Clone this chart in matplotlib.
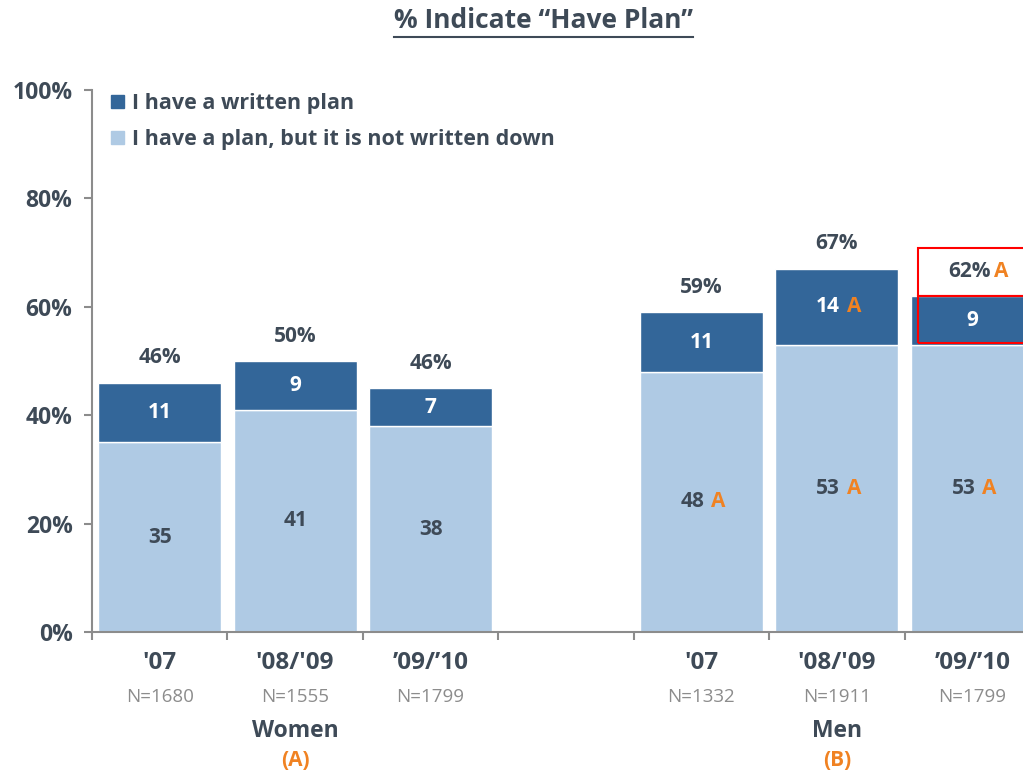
import numpy as np
import matplotlib
matplotlib.use("Agg")
import matplotlib.pyplot as plt
from matplotlib.patches import Patch, Rectangle
from matplotlib.lines import Line2D

plt.rcParams['font.family'] = ['Open Sans', 'DejaVu Sans']

# data
years = ["'07", "'08/'09", "\u201909/\u201910", "'07", "'08/'09", "\u201909/\u201910"]
n_sizes = [1680, 1555, 1799, 1332, 1911, 1799]
groups = ["Women", "Men"]
group_tags = ["(A)", "(B)"]
not_written = [35, 41, 38, 48, 53, 53]
written = [11, 9, 7, 11, 14, 9]
totals = [46, 50, 46, 59, 67, 62]
sig_not_written = [0, 0, 0, 1, 1, 1]
sig_written = [0, 0, 0, 0, 1, 0]
sig_total = [0, 0, 0, 0, 0, 1]

pos = [0, 1, 2, 4, 5, 6]
group_pos = [1, 5]

dark = '#336699'
light = '#AFCAE4'
txt = '#3E4A57'
orange = '#F08222'
grey = '#8C8C8C'

FS = 15

fig = plt.figure(figsize=(10.23, 7.74), dpi=100)
ax = fig.add_axes([92/1023, 1-632/774, 948/1023, 542/774])

ax.bar(pos, not_written, width=0.91, color=light, edgecolor='white', linewidth=1)
ax.bar(pos, written, bottom=not_written, width=0.91, color=dark, edgecolor='white', linewidth=1)

ax.set_xlim(-0.5, 6.5)
ax.set_ylim(0, 100)

def label(x, y, s, color, sig):
    if sig:
        ax.annotate(s, (x, y), xytext=(3, 0), textcoords='offset pixels',
                    ha='right', va='center', fontsize=FS, fontweight='bold', color=color)
        ax.annotate('A', (x, y), xytext=(10, 0), textcoords='offset pixels',
                    ha='left', va='center', fontsize=FS, fontweight='bold', color=orange)
    else:
        ax.annotate(s, (x, y), ha='center', va='center', fontsize=FS,
                    fontweight='bold', color=color)

for i, x in enumerate(pos):
    label(x, not_written[i] / 2, str(not_written[i]), txt, sig_not_written[i])
    label(x, not_written[i] + written[i] / 2, str(written[i]), 'white', sig_written[i])
    ytop = not_written[i] + written[i] + 4.6
    if sig_total[i]:
        ax.annotate(f"{totals[i]}%", (x, ytop), xytext=(18, 0), textcoords='offset pixels',
                    ha='right', va='center', fontsize=FS, fontweight='bold', color=txt)
        ax.annotate('A', (x, ytop), xytext=(22, 0), textcoords='offset pixels',
                    ha='left', va='center', fontsize=FS, fontweight='bold', color=orange)
    else:
        ax.annotate(f"{totals[i]}%", (x, ytop), ha='center', va='center',
                    fontsize=FS, fontweight='bold', color=txt)

# red highlight box
ax.add_patch(Rectangle((5.596, 62), 1.2, 8.8, fill=False, edgecolor='red', lw=1.5, clip_on=False))
ax.add_patch(Rectangle((5.596, 53.3), 1.2, 8.7, fill=False, edgecolor='red', lw=1.5, clip_on=False))

# axes styling
for s in ['top', 'right']:
    ax.spines[s].set_visible(False)
for s in ['left', 'bottom']:
    ax.spines[s].set_color(grey)
    ax.spines[s].set_linewidth(1.5)

ax.set_yticks(np.arange(0, 101, 20))
ax.set_yticklabels([f"{v}%" for v in range(0, 101, 20)], fontsize=16.5, fontweight='bold', color=txt)
ax.tick_params(axis='y', length=6, width=1.5, color=grey, pad=8)

ax.set_xticks(np.arange(-0.5, 7, 1))
ax.set_xticklabels([])
ax.tick_params(axis='x', length=6, width=1.5, color=grey)

for i, x in enumerate(pos):
    ax.annotate(years[i], (x, 0), xycoords=('data', 'axes fraction'), xytext=(0, -31),
                textcoords='offset pixels', ha='center', va='center', fontsize=17.5,
                fontweight='bold', color=txt, annotation_clip=False)
    ax.annotate(f"N={n_sizes[i]}", (x, 0), xycoords=('data', 'axes fraction'), xytext=(0, -65),
                textcoords='offset pixels', ha='center', va='center', fontsize=13.5,
                color=grey, annotation_clip=False)
for g, gx, tag in zip(groups, group_pos, group_tags):
    ax.annotate(g, (gx, 0), xycoords=('data', 'axes fraction'), xytext=(0, -99),
                textcoords='offset pixels', ha='center', va='center', fontsize=16.5,
                fontweight='bold', color=txt, annotation_clip=False)
    ax.annotate(tag, (gx, 0), xycoords=('data', 'axes fraction'), xytext=(0, -129),
                textcoords='offset pixels', ha='center', va='center', fontsize=FS,
                fontweight='bold', color=orange, annotation_clip=False)

handles = [Patch(color=dark, label='I have a written plan'),
           Patch(color=light, label='I have a plan, but it is not written down')]
leg = ax.legend(handles=handles, loc='upper left', bbox_to_anchor=(0.0, 1.03), frameon=False,
                handlelength=0.6, handleheight=0.6, handletextpad=0.35, labelspacing=0.7,
                prop={'size': 15.5, 'weight': 'bold'})
for t in leg.get_texts():
    t.set_color(txt)

title = fig.text(543/1023, 1-20/774, "% Indicate \u201cHave Plan\u201d", ha='center', va='center',
                 fontsize=19, fontweight='bold', color=txt)
fig.canvas.draw()
bb = title.get_window_extent().transformed(fig.transFigure.inverted())
fig.add_artist(Line2D([bb.x0, bb.x1], [1-37/774, 1-37/774], color=txt, lw=1.5))

fig.savefig("out.png", dpi=100)
